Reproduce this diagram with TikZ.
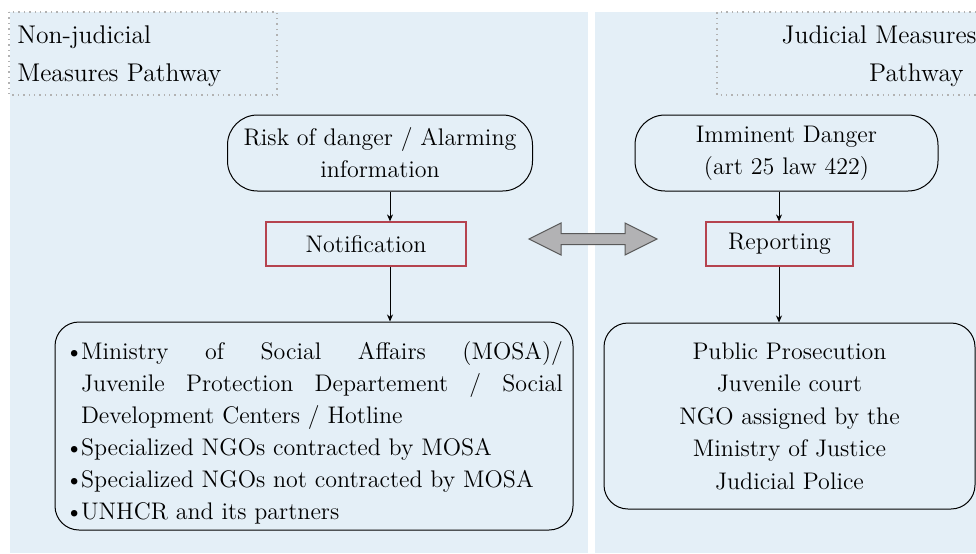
\documentclass[tikz,border=0pt]{standalone}
\usetikzlibrary{arrows.meta}

\definecolor{panelblue}{HTML}{E4EFF7}
\definecolor{boxred}{HTML}{B5434F}
\definecolor{arrowgray}{HTML}{B2B2B4}

\newcommand{\bitem}[1]{\par\hangindent=8pt\hangafter=1\noindent\makebox[8pt][l]{\textbullet}#1}

\begin{document}
\begin{tikzpicture}[x=0.5pt, y=-0.5pt,
   every node/.style={font=\fontsize{12}{16}\selectfont},
   roundbox/.style={draw, rounded corners=15pt, line width=0.5pt, align=center, inner sep=0pt},
   redbox/.style={draw=boxred, line width=0.6pt, inner sep=0pt},
   flow/.style={-{Stealth[length=3.5pt,width=3pt]}, line width=0.45pt}]
   \useasboundingbox (0,0) rectangle (976,553);
   \fill[panelblue] (10,12) rectangle (588,553);
   \fill[panelblue] (595,12) rectangle (976,553);
   % pathway titles
   \draw[color=gray!60,dotted,line width=0.7pt] (9,12) rectangle (277,95);
   \node[anchor=north west, align=left, inner sep=0pt, font=\fontsize{12.8}{19}\selectfont] (lefttitle) at (17,25) {Non-judicial\\Measures Pathway};
   \draw[color=gray!60,dotted,line width=0.7pt] (976,12) -- (717,12) -- (717,95) -- (976,95);
   \node[anchor=north east, align=right, inner sep=0pt, font=\fontsize{12.8}{19}\selectfont] (righttitle) at (977,25) {Judicial Measures\\Pathway\hspace*{6.5pt}};
   % non-judicial side
   \node[roundbox, minimum width=152.5pt, minimum height=38pt] (risk) at (380,153) {Risk of danger / Alarming\\information};
   \node[redbox, minimum width=100pt, minimum height=22pt] (notif) at (366,244) {Notification};
   \node[roundbox, rounded corners=12pt, text width=249pt, align=justify, minimum height=104pt, inner xsep=5pt] (nonjud) at (314,426) {%
     \bitem{Ministry of Social Affairs (MOSA)/\linebreak Juvenile Protection Departement / Social\linebreak Development Centers / Hotline}
     \bitem{Specialized NGOs contracted by MOSA}
     \bitem{Specialized NGOs not contracted by MOSA}
     \bitem{UNHCR and its partners}\par};
   \coordinate (lx) at (390,0);
   \draw[flow] (risk.south -| lx) -- (notif.north -| lx);
   \draw[flow] (notif.south -| lx) -- (nonjud.north -| lx);
   % judicial side
   \node[roundbox, minimum width=151.5pt, minimum height=38pt] (danger) at (786.5,153) {Imminent Danger\\(art 25 law 422)};
   \node[redbox, minimum width=73.5pt, minimum height=22pt] (report) at (779.5,244) {Reporting};
   \node[roundbox, rounded corners=12pt, minimum width=185.5pt, minimum height=93pt, font=\fontsize{12}{16.25}\selectfont] (jud) at (789.5,416) {Public Prosecution\\Juvenile court\\NGO assigned by the\\Ministry of Justice\\Judicial Police};
   \coordinate (rx) at (779,0);
   \draw[flow] (danger.south -| rx) -- (report.north -| rx);
   \draw[flow] (report.south -| rx) -- (jud.north -| rx);
   % double arrow between the pathways
   \draw[fill=arrowgray, draw=black!65, line width=0.5pt] (529,239) -- (561,223) -- (561,233.5) -- (625,233.5) -- (625,223) -- (657,239) -- (625,255) -- (625,244.5) -- (561,244.5) -- (561,255) -- cycle;
\end{tikzpicture}
\end{document}
